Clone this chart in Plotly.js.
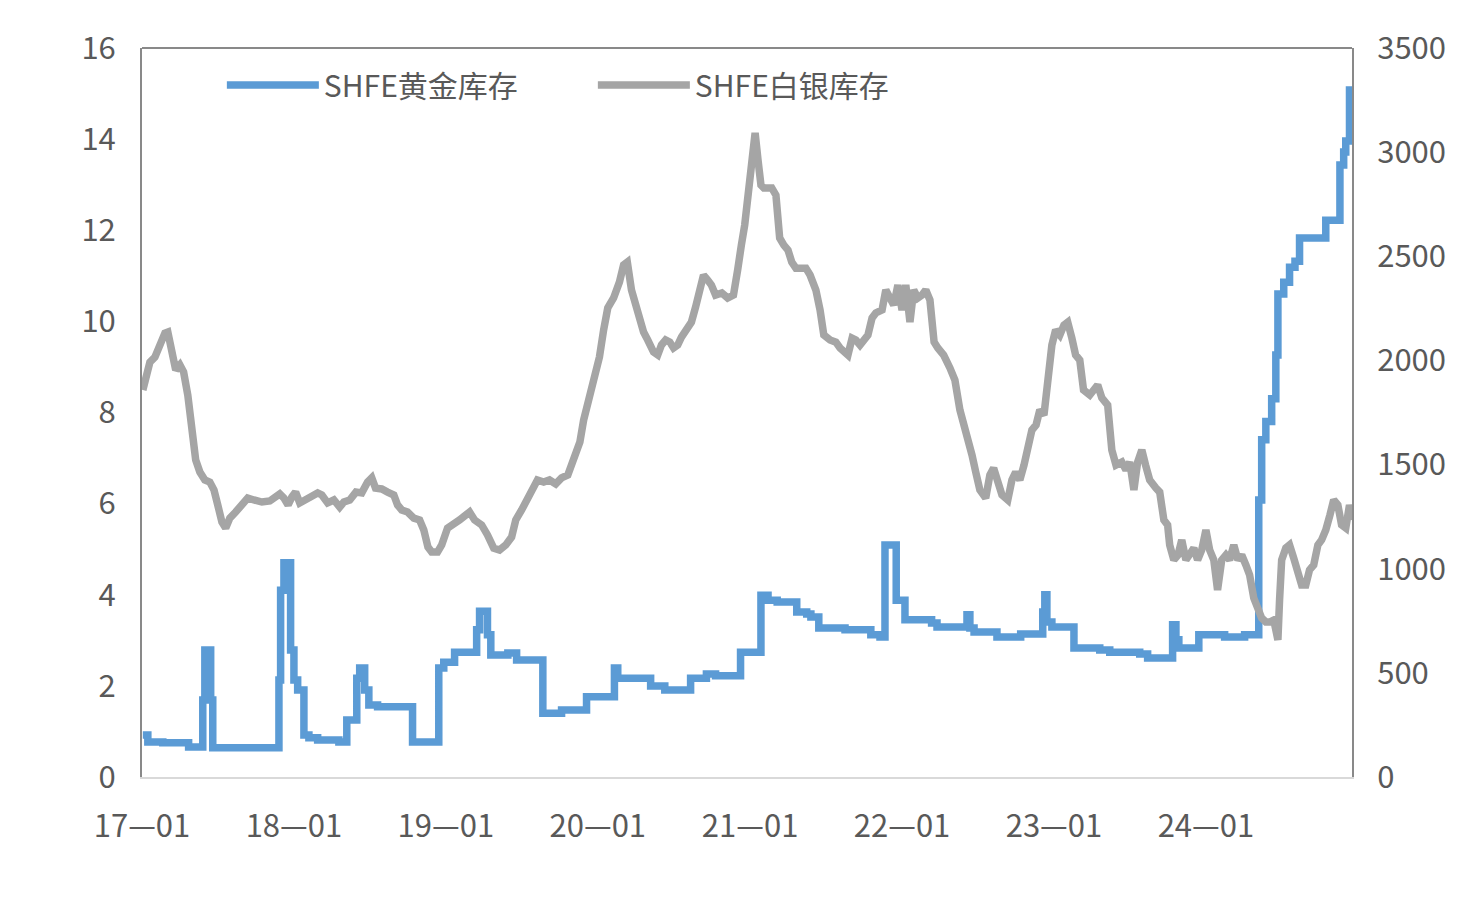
<!DOCTYPE html>
<html>
<head>
<meta charset="utf-8">
<script src="https://cdn.plot.ly/plotly-3.0.1.min.js"></script>
<style>html,body{margin:0;padding:0;background:#fff;}#chart{width:1484px;height:910px;}</style>
</head>
<body>
<div id="chart"></div>
<script>
// Series names
const goldName = 'SHFE黄金库存';
const silverName = 'SHFE白银库存';

// Tick labels
const tickYears = [2017, 2018, 2019, 2020, 2021, 2022, 2023, 2024];
const tickLabels = ['17—01', '18—01', '19—01', '20—01', '21—01', '22—01', '23—01', '24—01'];

// SHFE gold inventory (tonnes, left axis) - step changes, decimal-year dates
const goldT = [2017.007,2017.039,2017.138,2017.309,2017.401,2017.414,2017.454,2017.467,2017.901,2017.914,2017.934,2017.980,2018.000,2018.026,2018.066,2018.099,2018.158,2018.296,2018.349,2018.414,2018.434,2018.467,2018.493,2018.553,2018.783,2018.954,2018.987,2019.059,2019.204,2019.224,2019.276,2019.296,2019.408,2019.467,2019.638,2019.763,2019.928,2020.112,2020.132,2020.349,2020.441,2020.612,2020.717,2020.776,2020.941,2021.072,2021.118,2021.178,2021.309,2021.375,2021.401,2021.454,2021.625,2021.796,2021.855,2021.888,2021.961,2022.020,2022.197,2022.230,2022.428,2022.447,2022.474,2022.625,2022.783,2022.928,2022.941,2022.954,2022.987,2023.132,2023.303,2023.368,2023.566,2023.618,2023.783,2023.803,2023.822,2023.954,2024.125,2024.257,2024.349,2024.368,2024.395,2024.434,2024.461,2024.474,2024.513,2024.553,2024.586,2024.618,2024.789,2024.882,2024.908,2024.921,2024.947,2024.962];
const goldV = [0.92,0.77,0.75,0.66,1.69,2.79,1.69,0.64,2.13,4.10,4.70,2.79,2.13,1.91,0.92,0.86,0.81,0.77,1.25,2.17,2.39,1.91,1.58,1.54,0.77,2.39,2.52,2.74,3.23,3.64,3.12,2.68,2.72,2.57,1.40,1.47,1.76,2.39,2.17,2.00,1.91,2.17,2.26,2.22,2.74,3.99,3.88,3.84,3.62,3.58,3.51,3.27,3.23,3.12,3.07,5.09,3.88,3.45,3.38,3.29,3.56,3.27,3.18,3.07,3.14,3.62,4.00,3.40,3.29,2.83,2.79,2.74,2.70,2.61,3.34,3.01,2.83,3.12,3.07,3.12,6.08,7.40,7.80,8.30,9.26,10.60,10.86,11.19,11.32,11.83,12.22,13.43,13.72,13.96,15.08,15.08];

// SHFE silver inventory (tonnes, right axis), decimal-year dates
const silverT = [2017.007,2017.033,2017.053,2017.086,2017.118,2017.151,2017.171,2017.197,2017.224,2017.250,2017.276,2017.303,2017.329,2017.355,2017.382,2017.414,2017.447,2017.474,2017.500,2017.526,2017.553,2017.579,2017.618,2017.658,2017.697,2017.737,2017.789,2017.842,2017.882,2017.908,2017.934,2017.961,2017.987,2018.013,2018.039,2018.079,2018.118,2018.158,2018.184,2018.224,2018.263,2018.303,2018.329,2018.368,2018.408,2018.447,2018.487,2018.513,2018.539,2018.579,2018.618,2018.658,2018.684,2018.711,2018.750,2018.789,2018.829,2018.855,2018.882,2018.908,2018.947,2018.974,2019.013,2019.053,2019.092,2019.125,2019.158,2019.191,2019.237,2019.276,2019.316,2019.355,2019.395,2019.434,2019.461,2019.500,2019.539,2019.566,2019.605,2019.645,2019.684,2019.724,2019.763,2019.803,2019.829,2019.855,2019.882,2019.908,2019.934,2019.961,2019.987,2020.013,2020.039,2020.066,2020.105,2020.145,2020.171,2020.197,2020.224,2020.250,2020.276,2020.303,2020.329,2020.368,2020.395,2020.421,2020.447,2020.474,2020.500,2020.526,2020.553,2020.579,2020.618,2020.645,2020.671,2020.697,2020.724,2020.750,2020.776,2020.816,2020.855,2020.895,2020.921,2020.934,2020.947,2020.967,2020.987,2021.007,2021.020,2021.033,2021.053,2021.072,2021.092,2021.118,2021.145,2021.171,2021.184,2021.197,2021.224,2021.250,2021.276,2021.303,2021.329,2021.368,2021.395,2021.434,2021.461,2021.487,2021.526,2021.566,2021.592,2021.618,2021.645,2021.671,2021.697,2021.724,2021.750,2021.776,2021.803,2021.829,2021.868,2021.895,2021.921,2021.947,2021.974,2022.000,2022.026,2022.053,2022.079,2022.105,2022.132,2022.158,2022.184,2022.211,2022.237,2022.276,2022.316,2022.349,2022.382,2022.421,2022.461,2022.487,2022.513,2022.553,2022.579,2022.605,2022.632,2022.658,2022.697,2022.724,2022.750,2022.776,2022.803,2022.829,2022.855,2022.882,2022.908,2022.934,2022.961,2022.987,2023.013,2023.039,2023.066,2023.092,2023.118,2023.145,2023.171,2023.197,2023.237,2023.263,2023.289,2023.316,2023.355,2023.382,2023.408,2023.447,2023.474,2023.500,2023.526,2023.553,2023.579,2023.605,2023.632,2023.671,2023.697,2023.724,2023.750,2023.763,2023.789,2023.816,2023.842,2023.868,2023.895,2023.921,2023.947,2023.974,2024.000,2024.026,2024.053,2024.079,2024.105,2024.132,2024.158,2024.184,2024.211,2024.237,2024.263,2024.289,2024.316,2024.342,2024.368,2024.395,2024.421,2024.447,2024.474,2024.487,2024.500,2024.526,2024.553,2024.579,2024.605,2024.632,2024.658,2024.684,2024.711,2024.737,2024.763,2024.789,2024.816,2024.842,2024.868,2024.895,2024.921,2024.947,2024.962];
const silverV = [1858,1930,1992,2016,2074,2131,2136,2026,1954,1978,1944,1834,1666,1522,1464,1426,1416,1378,1306,1224,1195,1243,1272,1306,1339,1330,1320,1325,1344,1359,1339,1306,1344,1368,1316,1330,1344,1364,1354,1316,1330,1296,1320,1330,1368,1364,1416,1436,1387,1383,1368,1354,1306,1282,1272,1243,1234,1186,1104,1080,1080,1114,1195,1210,1234,1253,1272,1234,1210,1162,1099,1090,1114,1152,1234,1282,1330,1378,1426,1416,1426,1407,1436,1450,1507,1551,1608,1714,1786,1858,1930,2016,2146,2252,2300,2376,2458,2472,2338,2266,2204,2136,2098,2040,2026,2074,2098,2088,2060,2074,2112,2146,2184,2256,2338,2410,2386,2362,2314,2324,2300,2314,2434,2482,2554,2650,2794,2938,3068,3092,2962,2842,2828,2832,2828,2794,2698,2588,2554,2530,2472,2443,2443,2443,2410,2338,2242,2122,2098,2088,2060,2040,2026,2107,2098,2074,2098,2122,2204,2228,2242,2338,2300,2266,2362,2242,2362,2184,2338,2300,2314,2338,2290,2088,2060,2026,1964,1906,1762,1666,1546,1464,1378,1339,1450,1483,1416,1354,1330,1426,1464,1426,1498,1594,1666,1690,1762,1738,1954,2074,2146,2122,2170,2184,2107,2026,2002,1858,1834,1858,1882,1820,1786,1570,1498,1512,1474,1512,1378,1512,1570,1498,1426,1387,1368,1234,1210,1114,1042,1066,1138,1042,1066,1099,1042,1090,1186,1090,1042,898,1042,1066,1042,1114,1042,1066,1018,970,859,802,763,744,744,754,658,850,1042,1099,1114,1051,994,922,922,994,1018,1114,1138,1186,1258,1330,1306,1210,1195,1306,1234];

function yd(v) {
  const y = Math.floor(v);
  const ms = Date.UTC(y, 0, 1) + (v - y) * 365.25 * 86400000;
  return new Date(ms).toISOString().slice(0, 10);
}

const textColor = '#595959';
const fontFam = '"Noto Sans CJK SC", "Noto Sans", sans-serif';

const silverTrace = {
  x: silverT.map(yd), y: silverV, yaxis: 'y2', type: 'scatter', mode: 'lines',
  name: silverName, legendrank: 2,
  line: {color: '#a5a5a5', width: 7.5, shape: 'linear'}
};
const goldTrace = {
  x: goldT.map(yd), y: goldV, yaxis: 'y', type: 'scatter', mode: 'lines',
  name: goldName, legendrank: 1,
  line: {color: '#5b9bd5', width: 7.5, shape: 'hv'}
};

const layout = {
  width: 1484, height: 910,
  margin: {l: 142, r: 132, t: 48, b: 133},
  paper_bgcolor: '#ffffff', plot_bgcolor: '#ffffff',
  font: {family: fontFam, color: textColor, size: 31},
  showlegend: true,
  legend: {
    orientation: 'h', x: 0.066, y: 0.985, xanchor: 'left', yanchor: 'top',
    font: {size: 30, color: textColor, family: fontFam},
    itemwidth: 92, entrywidth: 264, entrywidthmode: 'pixels',
    bgcolor: 'rgba(0,0,0,0)', traceorder: 'normal'
  },
  xaxis: {
    type: 'date',
    range: [yd(2017.0), yd(2024.962)],
    tickmode: 'array', tickvals: tickYears.map(y => y + '-01-01'), ticktext: tickLabels,
    showline: true, linecolor: '#d9d9d9', linewidth: 2,
    showgrid: false, zeroline: false, ticks: '',
    tickfont: {size: 31, color: textColor, family: fontFam},
    ticklabelstandoff: 21
  },
  yaxis: {
    range: [0, 16], dtick: 2, tick0: 0,
    showline: true, linecolor: '#898989', linewidth: 2,
    showgrid: false, zeroline: false, ticks: '',
    tickfont: {size: 31, color: textColor, family: fontFam},
    ticklabelstandoff: 18
  },
  yaxis2: {
    overlaying: 'y', side: 'right',
    range: [0, 3500], dtick: 500, tick0: 0,
    showline: true, linecolor: '#898989', linewidth: 2,
    showgrid: false, zeroline: false, ticks: '',
    tickfont: {size: 31, color: textColor, family: fontFam},
    ticklabelstandoff: 17
  },
  shapes: [{
    type: 'line', xref: 'paper', yref: 'paper', x0: 0, x1: 1, y0: 1, y1: 1,
    line: {color: '#898989', width: 2}
  }]
};

Plotly.newPlot('chart', [silverTrace, goldTrace], layout, {displayModeBar: false, staticPlot: true});
</script>
</body>
</html>
